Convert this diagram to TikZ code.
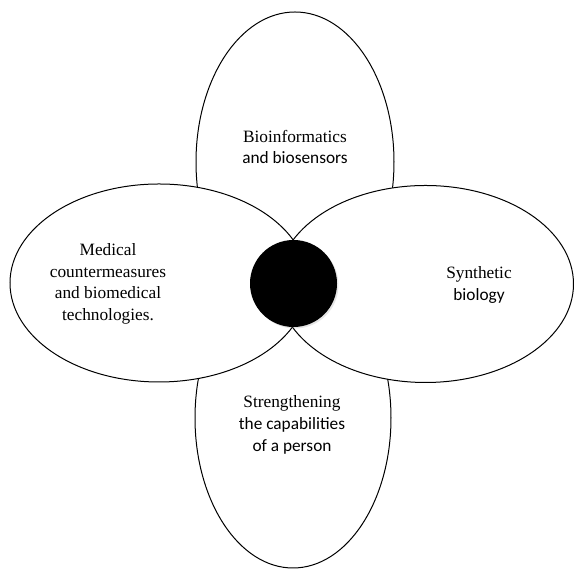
\documentclass[tikz,border=0pt]{standalone}
\usepackage{fontspec}
\setmainfont{Liberation Serif}
\newfontfamily\calib{Carlito}
\usetikzlibrary{shapes.geometric,shadows}

\tikzset{
  petal/.style={ellipse, draw=black, fill=white, line width=1pt, inner sep=0pt},
  hub/.style={circle, fill=black, inner sep=0pt, minimum size=87pt,
    drop shadow={shadow xshift=1.5pt, shadow yshift=-1.5pt, opacity=0.2}},
  caption/.style={align=center, inner sep=0pt, font=\fontsize{17.3}{21.7}\selectfont}
}

\begin{document}
\begin{tikzpicture}[x=1pt,y=1pt]
  \useasboundingbox (0,0) rectangle (574,569);

  % vertical petals first, the horizontal ones lie over them
  \node[petal, minimum width=198pt, minimum height=300pt] (top) at (295,407) {};
  \node[petal, minimum width=196pt, minimum height=300pt] (bottom) at (293,151) {};
  \node[petal, minimum width=298pt, minimum height=198pt] (left) at (159,286) {};
  \node[petal, minimum width=296pt, minimum height=197pt] (right) at (425.5,285) {};

  % central disc
  \node[hub] (core) at (293.5,285.5) {};

  % petal texts
  \node[caption] (ttop) at (295,422) {Bioinformatics\\{\calib and biosensors}};
  \node[caption] (tleft) at (108,285) {Medical\\countermeasures\\and biomedical\\technologies.};
  \node[caption] (tright) at (479,284) {Synthetic\\{\calib biology}};
  \node[caption] (tbottom) at (292,144) {Strengthening\\{\calib the capabilities}\\{\calib of a person}};
\end{tikzpicture}
\end{document}
